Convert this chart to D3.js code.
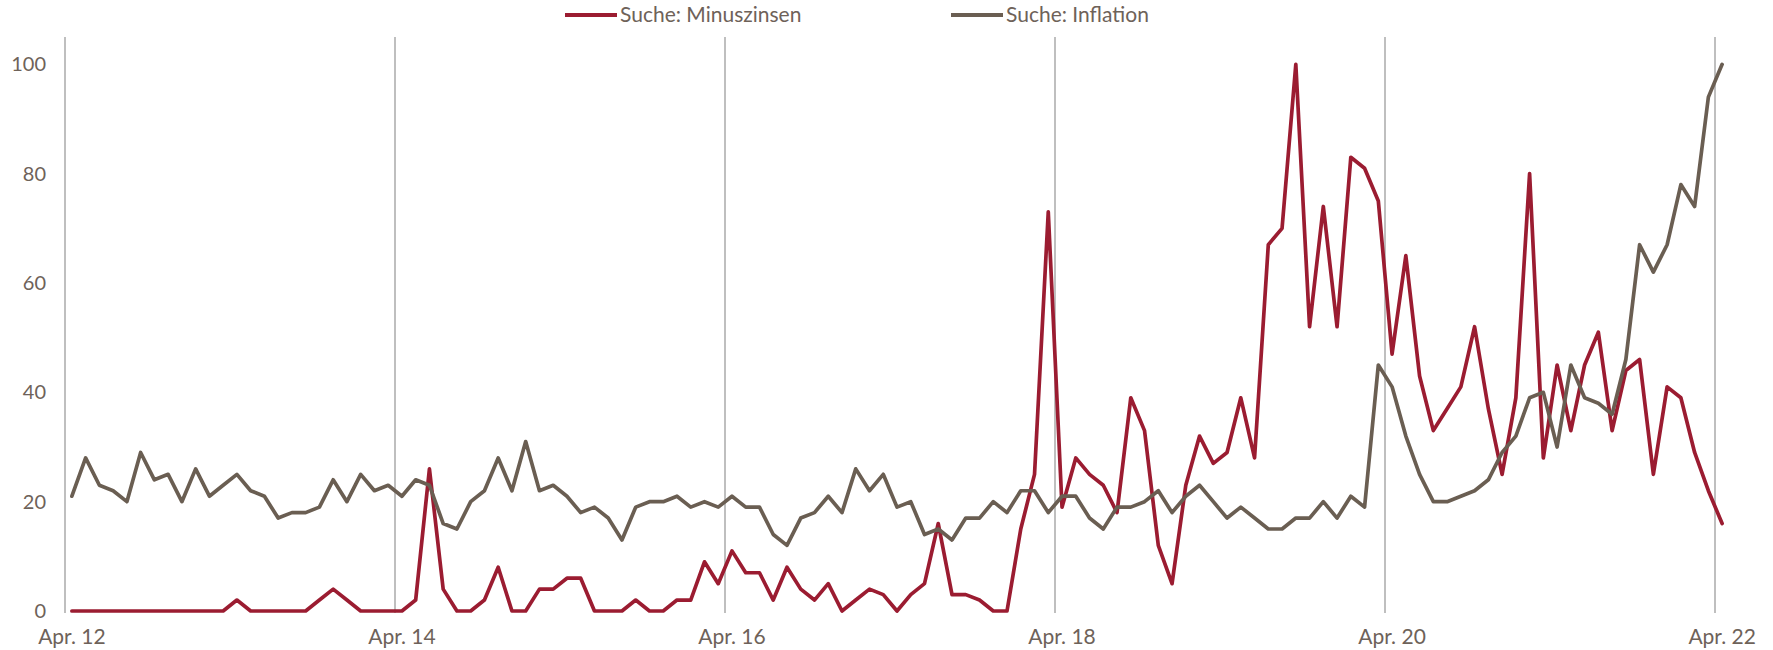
<!DOCTYPE html>
<meta charset="utf-8">
<style>
body { margin: 0; background: #fff; }
svg { display: block; }
.axis text { font: 21px Lato, "Open Sans", sans-serif; fill: #6e6259; }
.axis--y text { font-size: 20px; }
.axis path, .axis line { display: none; }
.grid line { stroke: #bfbfbf; stroke-width: 2px; shape-rendering: crispEdges; }
.line { fill: none; stroke-width: 3.7px; stroke-linejoin: round; stroke-linecap: round; }
.legend text { font: 21px Lato, "Open Sans", sans-serif; fill: #6e6259; }
</style>
<body>
<svg width="1773" height="650"></svg>
<script src="https://d3js.org/d3.v7.min.js"></script>
<script>
// monthly Google search interest, Apr 2012 .. Apr 2022
var startMonth = new Date(2012, 3, 1),
    endMonth = new Date(2022, 3, 1);

var tickLabels = ["Apr. 12", "Apr. 14", "Apr. 16", "Apr. 18", "Apr. 20", "Apr. 22"];
var yTicks = [0, 20, 40, 60, 80, 100];

var seriesNames = ["Suche: Minuszinsen", "Suche: Inflation"];
var seriesColors = ["#9b1c31", "#6a5e52"];

var minuszinsen = [
  0, 0, 0, 0, 0, 0, 0, 0, 0, 0, 0, 0,
  2, 0, 0, 0, 0, 0, 2, 4, 2, 0, 0, 0,
  0, 2, 26, 4, 0, 0, 2, 8, 0, 0, 4, 4,
  6, 6, 0, 0, 0, 2, 0, 0, 2, 2, 9, 5,
  11, 7, 7, 2, 8, 4, 2, 5, 0, 2, 4, 3,
  0, 3, 5, 16, 3, 3, 2, 0, 0, 15, 25, 73,
  19, 28, 25, 23, 18, 39, 33, 12, 5, 23, 32, 27,
  29, 39, 28, 67, 70, 100, 52, 74, 52, 83, 81, 75,
  47, 65, 43, 33, 37, 41, 52, 37, 25, 39, 80, 28,
  45, 33, 45, 51, 33, 44, 46, 25, 41, 39, 29, 22,
  16
];

var inflation = [
  21, 28, 23, 22, 20, 29, 24, 25, 20, 26, 21, 23,
  25, 22, 21, 17, 18, 18, 19, 24, 20, 25, 22, 23,
  21, 24, 23, 16, 15, 20, 22, 28, 22, 31, 22, 23,
  21, 18, 19, 17, 13, 19, 20, 20, 21, 19, 20, 19,
  21, 19, 19, 14, 12, 17, 18, 21, 18, 26, 22, 25,
  19, 20, 14, 15, 13, 17, 17, 20, 18, 22, 22, 18,
  21, 21, 17, 15, 19, 19, 20, 22, 18, 21, 23, 20,
  17, 19, 17, 15, 15, 17, 17, 20, 17, 21, 19, 45,
  41, 32, 25, 20, 20, 21, 22, 24, 29, 32, 39, 40,
  30, 45, 39, 38, 36, 46, 67, 62, 67, 78, 74, 94,
  100
];

var svg = d3.select("svg"),
    margin = {top: 37, right: 44, bottom: 39, left: 65},
    width = +svg.attr("width") - margin.left - margin.right,
    height = +svg.attr("height") - margin.top - margin.bottom;

var months = d3.timeMonth.range(startMonth, d3.timeMonth.offset(endMonth, 1));

var x = d3.scaleBand().domain(months).range([0, width]).padding(0);
var y = d3.scaleLinear().domain([0, 105]).range([height, 0]);

function cx(d) { return x(d) + x.bandwidth() / 2; }

var g = svg.append("g")
    .attr("transform", "translate(" + margin.left + "," + margin.top + ")");

// vertical gridlines every two years, at category boundaries
var tickMonths = months.filter(function(d, i) { return i % 24 === 0; });

g.append("g")
    .attr("class", "grid")
  .selectAll("line")
  .data(tickMonths)
  .enter().append("line")
    .attr("x1", function(d) { return x(d); })
    .attr("x2", function(d) { return x(d); })
    .attr("y1", 0)
    .attr("y2", height + 2);

g.append("g")
    .attr("class", "axis axis--y")
    .call(d3.axisLeft(y).tickValues(yTicks).tickSize(0).tickPadding(19));

var xAxis = d3.axisBottom(x)
    .tickValues(tickMonths)
    .tickSize(0)
    .tickPadding(18)
    .tickFormat(function(d, i) { return tickLabels[i]; });

g.append("g")
    .attr("class", "axis axis--x")
    .attr("transform", "translate(0," + height + ")")
    .call(xAxis);

var line = d3.line()
    .x(function(d, i) { return cx(months[i]); })
    .y(function(d) { return y(d); });

[minuszinsen, inflation].forEach(function(values, k) {
  g.append("path")
      .datum(values)
      .attr("class", "line")
      .attr("stroke", seriesColors[k])
      .attr("d", line);
});

// legend
var legendX = [565, 951];
var legend = svg.append("g").attr("class", "legend");

seriesNames.forEach(function(name, k) {
  var item = legend.append("g")
      .attr("transform", "translate(" + legendX[k] + ",15)");
  item.append("line")
      .attr("x1", 0).attr("x2", 52)
      .attr("stroke", seriesColors[k])
      .attr("stroke-width", 4);
  item.append("text")
      .attr("x", 55)
      .attr("dy", "0.35em")
      .text(name);
});
</script>
</body>
